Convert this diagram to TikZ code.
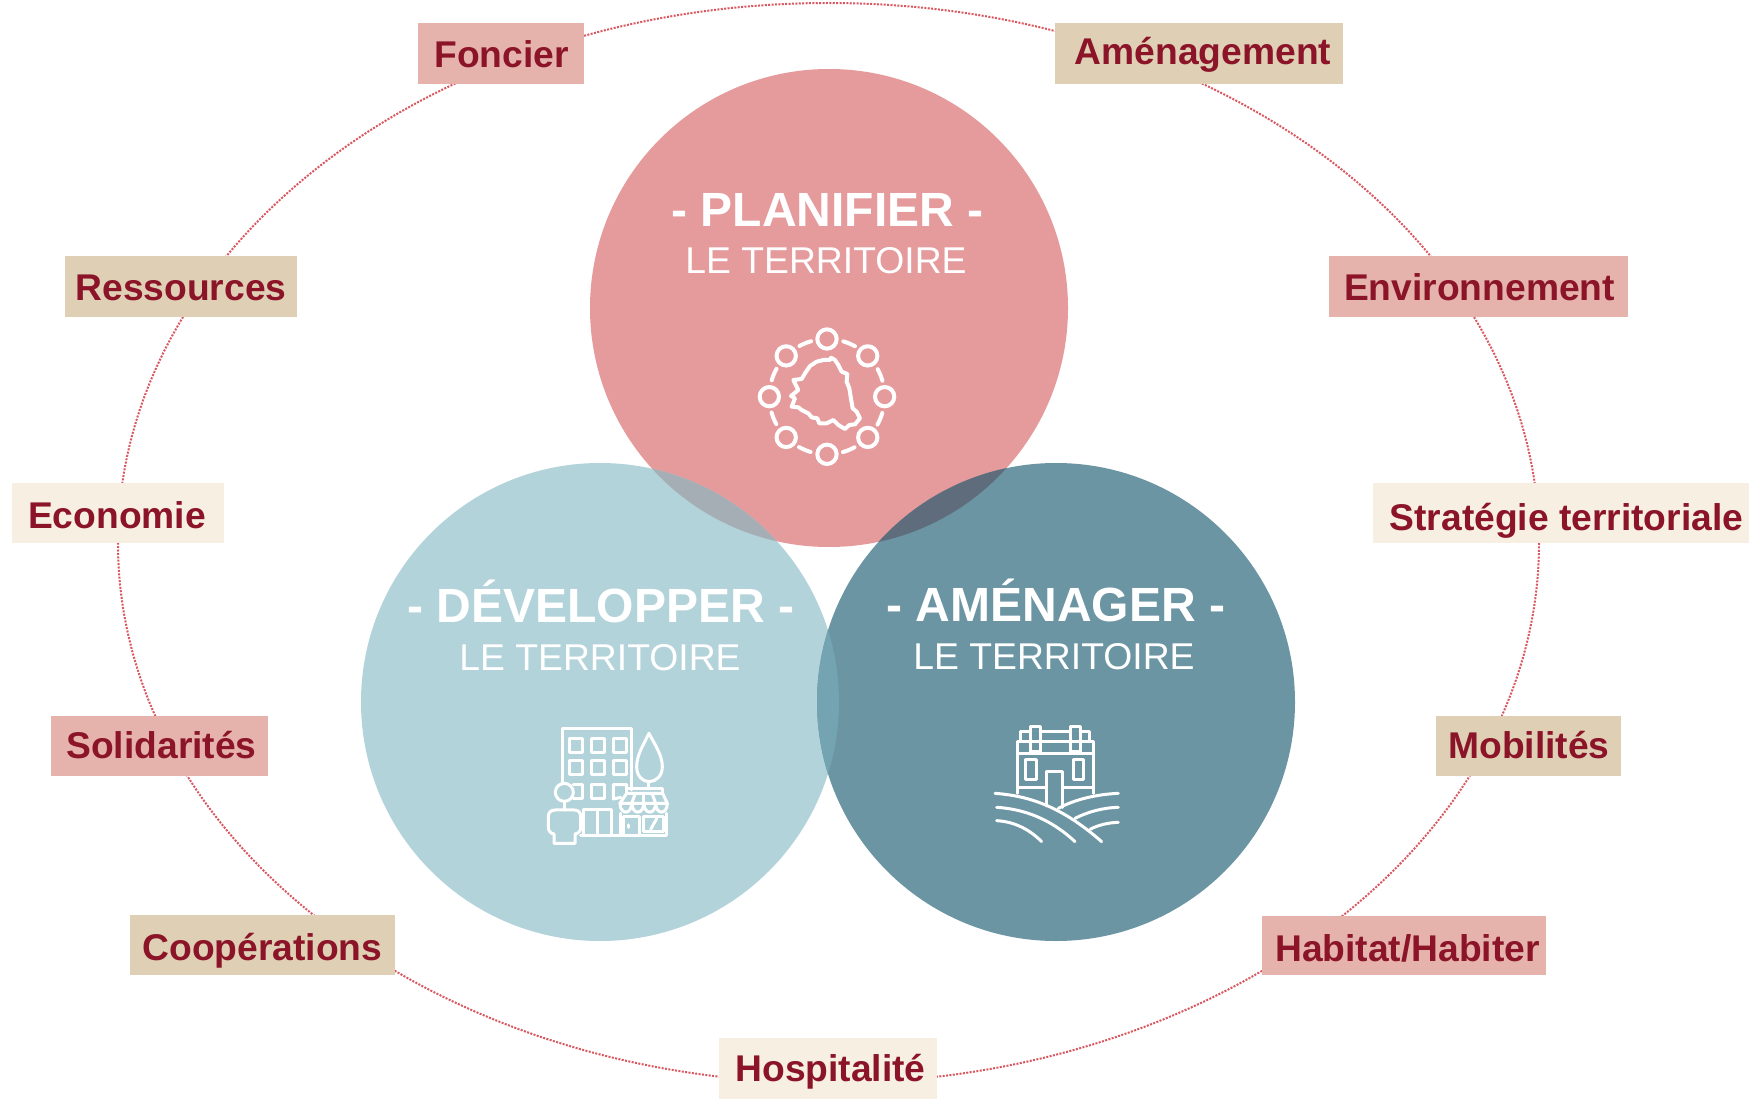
\documentclass[tikz,border=0pt]{standalone}
\usepackage{fontspec}
\setmainfont{Liberation Sans}
\definecolor{plan}{HTML}{E59A9C}
\definecolor{dev}{HTML}{B3D3DA}
\definecolor{ame}{HTML}{6C95A4}
\definecolor{pd}{HTML}{A5AEB5}
\definecolor{pa}{HTML}{5F6C7C}
\definecolor{da}{HTML}{74A3B1}
\definecolor{lpink}{HTML}{E5B3AB}
\definecolor{ltan}{HTML}{DFCFB5}
\definecolor{lcream}{HTML}{F7EFE2}
\definecolor{ink}{HTML}{8B1428}
\definecolor{ring}{HTML}{D9575F}
\tikzset{
  ltext/.style={anchor=base,inner sep=0pt,text=ink,font=\fontsize{37.2}{37}\selectfont\bfseries},
  ttitle/.style={anchor=base,inner sep=0pt,text=white,font=\fontsize{48}{48}\selectfont\bfseries},
  tsub/.style={anchor=base,inner sep=0pt,text=white,font=\fontsize{37.3}{37}\selectfont},
  ico/.style={draw=white,line width=3pt,line join=round,line cap=round},
  icomap/.style={draw=white,line width=4pt,line join=round,line cap=round},
}
\newcommand{\lab}[9]{%
  \path[fill=#2] (#3,#4) rectangle (#5,#6);
  \node[ltext] (#1) at (#7,#8) {#9};}
\begin{document}
\begin{tikzpicture}[x=1pt,y=-1pt]
\useasboundingbox (0,0) rectangle (1749,1099);
% ring
\draw[ring,line width=2pt,dash pattern=on 2pt off 1.4pt] (828.5,543) ellipse [x radius=710.5,y radius=540];
% circles
\fill[plan] (829,308) circle (239);
\fill[dev] (600,702) circle (239);
\fill[ame] (1056,702) circle (239);
\begin{scope}\clip (829,308) circle (239);\fill[pd] (600,702) circle (239);\fill[pa] (1056,702) circle (239);\end{scope}
\begin{scope}\clip (600,702) circle (239);\fill[da] (1056,702) circle (239);\end{scope}
% labels
\lab{fon}{lpink}{418}{23}{584}{84}{501.5}{68}{Foncier}
\lab{amg}{ltan}{1055}{23}{1343}{84}{1203}{64.5}{Aménagement}
\lab{res}{ltan}{65}{256}{297}{317}{181}{301}{Ressources}
\lab{env}{lpink}{1329}{256}{1628}{317}{1479.5}{301}{Environnement}
\lab{eco}{lcream}{12}{483}{224}{543}{117}{528.5}{Economie}
\lab{str}{lcream}{1373}{483}{1749}{543}{1566.5}{530}{Stratégie territoriale}
\lab{sol}{lpink}{51}{716}{268}{776}{161.5}{758}{Solidarités}
\lab{mob}{ltan}{1436}{716}{1621}{776}{1529}{758}{Mobilités}
\lab{coo}{ltan}{130}{915}{395}{975}{262.5}{960}{Coopérations}
\lab{hab}{lpink}{1262}{916}{1546}{975}{1407.5}{961}{Habitat/Habiter}
\lab{hos}{lcream}{719}{1038}{937}{1099}{830.5}{1081}{Hospitalité}
% titles
\node[ttitle] (tp) at (827.5,227) {- PLANIFIER -};
\node[tsub] (sp) at (826,274) {LE TERRITOIRE};
\node[ttitle] (td) at (601,622) {- DÉVELOPPER -};
\node[tsub] (sd) at (600,670) {LE TERRITOIRE};
\node[ttitle] (ta) at (1056,621) {- AMÉNAGER -};
\node[tsub] (sa) at (1054,669) {LE TERRITOIRE};
% icon planifier
\begin{scope}[shift={(730,310)},x=.3333pt,y=-.3333pt]
\foreach \a in {0,45,...,315}{
  \draw[icomap] (291,260)++(\a:173) circle (29);
  \draw[icomap] (291,260)++(\a+16.5:173) arc[start angle=\a+16.5,end angle=\a+29,radius=173];
}
\draw[icomap] (303,143)--(315,150)--(325,165)--(335,185)--(352,192)--(350,215)--(358,235)--(362,260)--(368,295)--(380,305)--(390,325)--(375,343)--(358,345)--(345,357)--(325,345)--(310,330)--(290,340)--(268,340)--(262,325)--(245,322)--(235,310)--(215,300)--(205,292)--(185,290)--(195,265)--(183,258)--(205,240)--(190,210)--(215,207)--(225,190)--(240,168)--(260,155)--(280,150)--(300,150)--cycle;
\end{scope}
% icon developper
\begin{scope}[shift={(530,710)},x=.3333pt,y=-.3333pt]
\draw[ico] (97,222)--(97,55)--(305,55)--(305,240);
\foreach \x in {118,185,250}\foreach \y in {85,152}{\draw[ico] (\x,\y) rectangle ++(40,42);}
\draw[ico] (130,224)--(158,224)--(158,267)--(130,267);
\draw[ico] (185,224) rectangle (225,267);
\draw[ico] (272,262)--(250,267)--(250,224)--(290,224)--(290,240);
\draw[ico] (103,247) circle (27);
\draw[ico] (103,274)--(103,300);
\draw[ico] (75,300)--(132,300) .. controls (146,300) and (152,308) .. (152,320)--(152,352) .. controls (152,364) and (146,370) .. (135,372)--(135,400)--(72,400)--(72,372) .. controls (60,370) and (55,362) .. (55,350)--(55,320) .. controls (55,308) and (62,300) .. (75,300);
\draw[ico] (160,372)--(160,298)--(245,298)--(245,372);
\draw[ico] (204,300)--(204,372);
\draw[ico] (152,376)--(410,376)--(410,310);
\draw[ico] (272,376)--(272,310);
\draw[ico] (357,70) .. controls (340,105) and (320,135) .. (320,170) .. controls (320,198) and (338,215) .. (357,215) .. controls (378,215) and (397,198) .. (397,170) .. controls (397,135) and (375,105) .. (357,70);
\draw[ico] (357,215)--(357,235);
\draw[ico] (290,250)--(290,235)--(398,235)--(398,250);
\draw[ico] (290,250)--(398,250)--(412,280)--(270,280)--cycle;
\foreach \x in {270,306,342,377}{\draw[ico] (\x,280) .. controls (\x,315) and (\x+35,315) .. (\x+35,280);}
\draw[ico] (305,280)--(316,250);\draw[ico] (342,280)--(342,250);\draw[ico] (377,280)--(366,250);
\draw[ico] (282,376)--(282,320)--(330,320)--(330,376);
\draw[ico] (295,345)--(295,352);
\draw[ico] (342,366)--(342,320)--(400,320)--(400,366)--cycle;
\draw[ico] (362,358)--(380,326);
\end{scope}
% icon amenager
\begin{scope}[shift={(980,710)},x=.3333pt,y=-.3333pt]
\draw[ico] (112,250)--(112,95)--(340,95)--(340,250);
\draw[ico] (112,130)--(340,130);
\draw[ico] (112,232)--(200,232);\draw[ico] (250,232)--(340,232);
\draw[ico] (152,48) rectangle (180,125);
\draw[ico] (272,48) rectangle (300,125);
\draw[ico] (120,95)--(120,65)--(152,65);
\draw[ico] (180,65)--(272,65);\draw[ico] (180,95)--(272,95);
\draw[ico] (300,65)--(328,65)--(328,95);
\draw[ico] (137,150) rectangle (168,208);
\draw[ico] (280,150) rectangle (310,208);
\draw[ico] (200,288)--(200,185)--(247,185)--(247,292);
\draw[ico] (45,250) .. controls (150,258) and (245,290) .. (365,395);
\draw[ico] (50,292) .. controls (130,297) and (210,325) .. (285,395);
\draw[ico] (50,332) .. controls (100,335) and (145,355) .. (185,395);
\draw[ico] (415,250) .. controls (350,253) and (285,268) .. (235,295);
\draw[ico] (415,292) .. controls (370,293) and (325,305) .. (285,325);
\draw[ico] (415,337) .. controls (385,338) and (355,345) .. (330,358);
\end{scope}
\end{tikzpicture}
\end{document}
